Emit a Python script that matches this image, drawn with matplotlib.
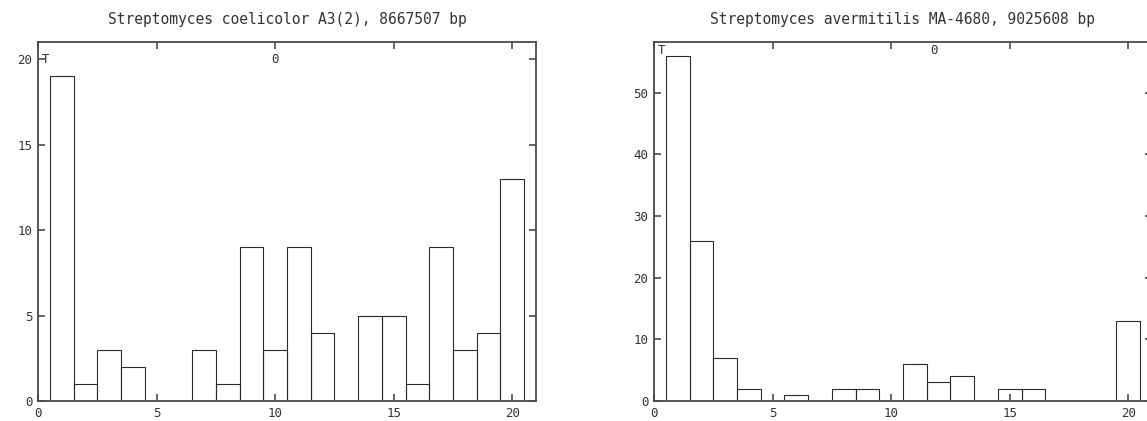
import matplotlib.pyplot as plt
import numpy as np

plt.rcParams.update({
    'font.family': 'DejaVu Sans Mono',
    'font.size': 9,
})

# histogram bins (1..20) and counts for each genome
bins = list(range(1, 21))
coelicolor_counts = [19, 1, 3, 2, 0, 0, 3, 1, 9, 3, 9, 4, 0, 5, 5, 1, 9, 3, 4, 13]
avermitilis_counts = [56, 26, 7, 2, 0, 1, 0, 2, 2, 0, 6, 3, 4, 0, 2, 2, 0, 0, 0, 13]

titles = ["Streptomyces coelicolor A3(2), 8667507 bp",
          "Streptomyces avermitilis MA-4680, 9025608 bp"]
x_ticks = [0, 5, 10, 15, 20]
y_ticks_left = [0, 5, 10, 15, 20]
y_ticks_right = [0, 10, 20, 30, 40, 50]

W, H = 1147, 421
fig = plt.figure(figsize=(W / 100, H / 100), dpi=100)

frame_col = '#4a4a4a'
text_col = '#333333'


def make_panel(left_px, counts, title, yticks, ymax, label_y, zero_x):
    ax = fig.add_axes([left_px / W, 20 / H, 498 / W, 359 / H])
    ax.bar(bins, counts, width=1.0, fill=False, edgecolor='#2a2a2a',
           linewidth=0.8)
    ax.set_xlim(0, 21)
    ax.set_ylim(0, ymax)
    ax.set_xticks(x_ticks)
    ax.set_yticks(yticks)
    ax.tick_params(direction='in', length=5, width=1.2, color=frame_col,
                   top=True, right=True, labelcolor=text_col, pad=4)
    for s in ax.spines.values():
        s.set_color(frame_col)
        s.set_linewidth(1.3)
    ax.set_title(title, fontsize=10.5, color=text_col, pad=13)
    # gnuplot-style labels near the top of the plot
    ax.text(0.15, label_y, "T", ha='left', va='center', color=text_col,
            fontsize=9)
    ax.text(zero_x, label_y, "0", ha='center', va='center', color=text_col,
            fontsize=9)
    return ax


make_panel(38, coelicolor_counts, titles[0], y_ticks_left, 21, 20, 10)
make_panel(654, avermitilis_counts, titles[1], y_ticks_right, 58.2, 56.8, 11.8)

fig.savefig('out.png', dpi=100)
